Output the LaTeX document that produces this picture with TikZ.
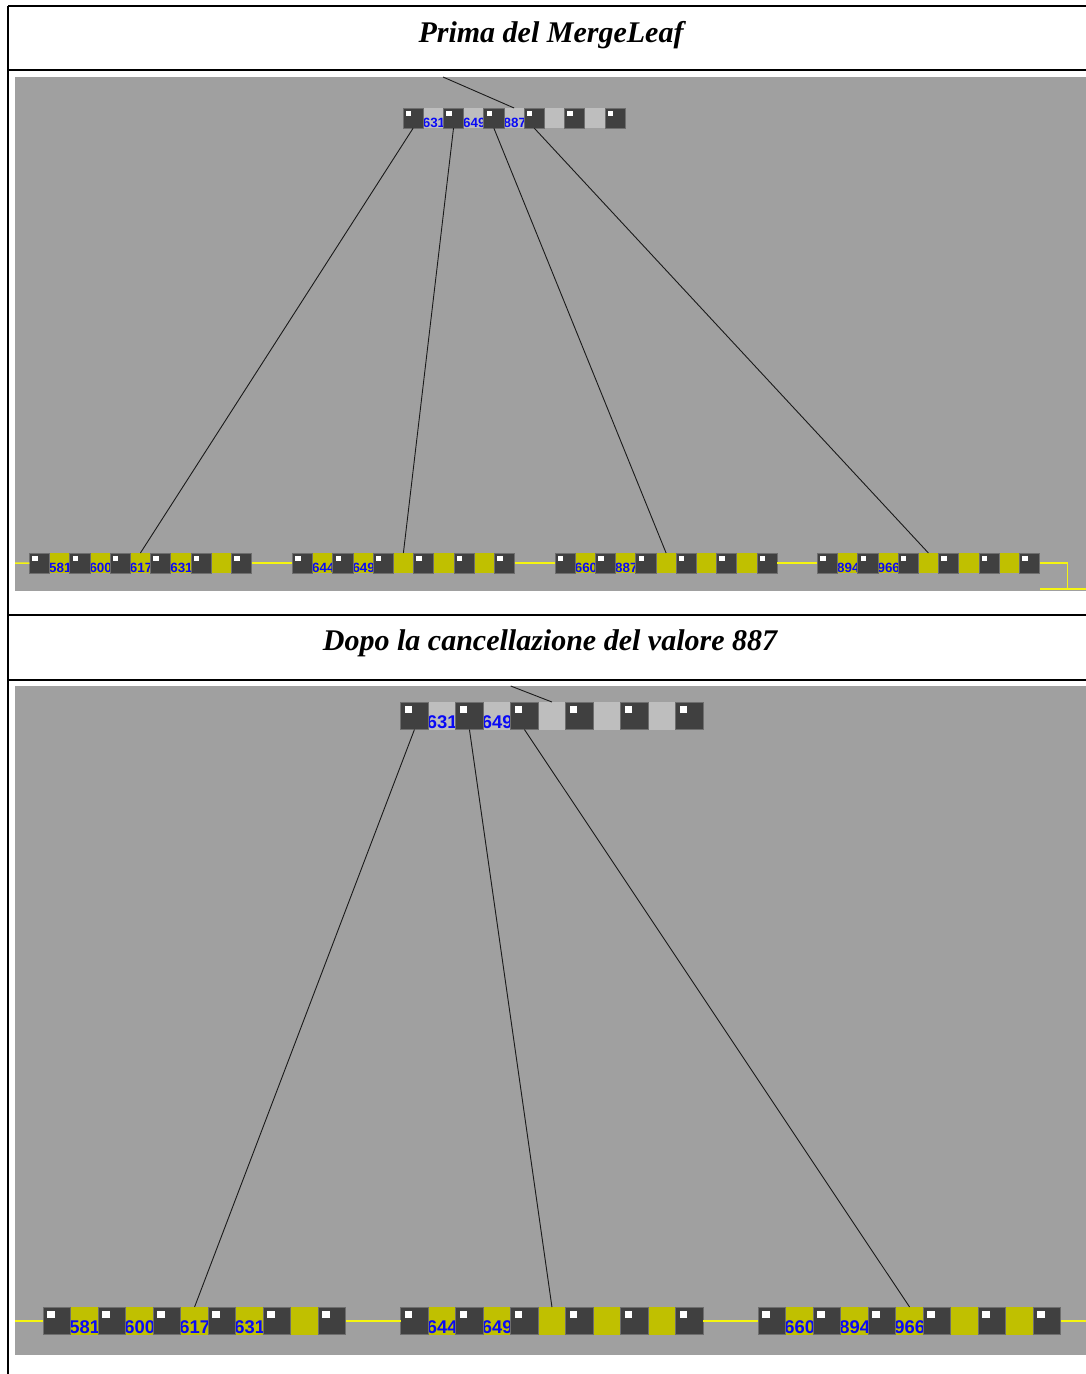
\documentclass[tikz,border=0pt]{standalone}
\usepackage{fontspec}
\setmainfont{Liberation Serif}
\newfontfamily\keyfont{Liberation Sans}
\usetikzlibrary{calc}

\definecolor{panelgray}{HTML}{A0A0A0}
\definecolor{rootslot}{HTML}{BEBEBE}
\definecolor{leafslot}{HTML}{C0C000}
\definecolor{ptrdark}{HTML}{404040}
\definecolor{ptredge}{HTML}{6E6E6E}
\definecolor{keyblue}{HTML}{0A0AF5}
\definecolor{chainyellow}{HTML}{F5F510}
\definecolor{linkdark}{HTML}{1A1A1A}

\tikzset{
  slot/.style={rectangle, draw=none, inner sep=0pt, outer sep=0pt, anchor=north west},
  ptr/.style={rectangle, fill=ptrdark, draw=ptredge, line width=0.8pt, inner sep=0pt, outer sep=0pt, anchor=north west},
  key/.style={text=keyblue, inner sep=0pt, outer sep=0pt, anchor=base east},
  link/.style={draw=linkdark, line width=0.9pt},
  chain/.style={draw=chainyellow, line width=1.6pt},
  rule/.style={draw=black, line width=1.2pt},
  title/.style={font=\fontsize{30}{34}\selectfont\bfseries\itshape, anchor=base, inner sep=0pt},
}

% One B+ tree page: #1 name, #2 left, #3 top, #4 cell size,
% #5 key slot colour, #6 keys, #7 key font size
\newcommand\bpage[7]{%
  \foreach \k in {1,3,...,9}
    \node[slot, fill=#5, minimum width=#4pt, minimum height=#4pt] (#1-\k) at (#2+\k*#4, #3) {};
  \foreach \v [count=\i] in {#6} {
    \pgfmathtruncatemacro\s{2*\i-1}
    \node[key, font=\keyfont\bfseries\fontsize{#7}{#7}\selectfont]
      at ([shift={(1.8,-1.2)}]#1-\s.south east) {\v};
  }
  \foreach \k in {0,2,...,10} {
    \node[ptr, minimum width=#4pt, minimum height=#4pt] (#1-\k) at (#2+\k*#4, #3) {};
    \fill[white] ([shift={(0.14*#4,0.14*#4)}]#1-\k.north west) rectangle ++(0.27*#4,0.27*#4);
  }
}

\begin{document}
\begin{tikzpicture}[x=1pt, y=-1pt]
\useasboundingbox (0,0) rectangle (1086,1374);

% table rules
\draw[rule] (8,6) -- (1086,6);
\draw[rule] (8,6) -- (8,1374);
\draw[rule] (8,70) -- (1086,70);
\draw[rule] (8,615) -- (1086,615);
\draw[rule] (8,680) -- (1086,680);

% titles
\node[title] (t1) at (551,42) {Prima del MergeLeaf};
\node[title] (t2) at (550,650) {Dopo la cancellazione del valore 887};

% screenshots
\fill[panelgray] (15,77) rectangle (1086,591);
\fill[panelgray] (15,686) rectangle (1086,1355);

% ---- before the merge ----
\bpage{ra}{403}{108}{20.2}{rootslot}{631,649,887}{13.4}
\bpage{la}{29.3}{553}{20.2}{leafslot}{581,600,617,631}{13.4}
\bpage{lb}{292.3}{553}{20.2}{leafslot}{644,649}{13.4}
\bpage{lc}{555}{553}{20.2}{leafslot}{660,887}{13.4}
\bpage{ld}{817.3}{553}{20.2}{leafslot}{894,966}{13.4}

\coordinate (up1) at (443,77);
\draw[link] (up1) -- (ra-5.north);
\draw[link] (ra-0.south) -- (la-5.north);
\draw[link] (ra-2.south) -- (lb-5.north);
\draw[link] (ra-4.south) -- (lc-5.north);
\draw[link] (ra-6.south) -- (ld-5.north);

\coordinate (c1in) at (15,563.1);
\coordinate (c1out) at (1067.5,589);
\coordinate (c1a) at (1040,589);
\coordinate (c1b) at (1086,589);
\draw[chain] (c1in) -- (la-0.west);
\draw[chain] (la-10.east) -- (lb-0.west);
\draw[chain] (lb-10.east) -- (lc-0.west);
\draw[chain] (lc-10.east) -- (ld-0.west);
\draw[chain] (ld-10.east) -| (c1out);
\draw[chain] (c1a) -- (c1b);

% ---- after deleting 887 ----
\bpage{rb}{400.7}{702}{27.5}{rootslot}{631,649}{18.4}
\bpage{ma}{43.3}{1307}{27.5}{leafslot}{581,600,617,631}{18.4}
\bpage{mb}{400.7}{1307}{27.5}{leafslot}{644,649}{18.4}
\bpage{mc}{758.3}{1307}{27.5}{leafslot}{660,894,966}{18.4}

\coordinate (up2) at (510.7,686);
\draw[link] (up2) -- (rb-5.north);
\draw[link] (rb-0.south) -- (ma-5.north);
\draw[link] (rb-2.south) -- (mb-5.north);
\draw[link] (rb-4.south) -- (mc-5.north);

\coordinate (c2in) at (15,1320.75);
\coordinate (c2out) at (1086,1320.75);
\draw[chain] (c2in) -- (ma-0.west);
\draw[chain] (ma-10.east) -- (mb-0.west);
\draw[chain] (mb-10.east) -- (mc-0.west);
\draw[chain] (mc-10.east) -- (c2out);
\end{tikzpicture}
\end{document}
